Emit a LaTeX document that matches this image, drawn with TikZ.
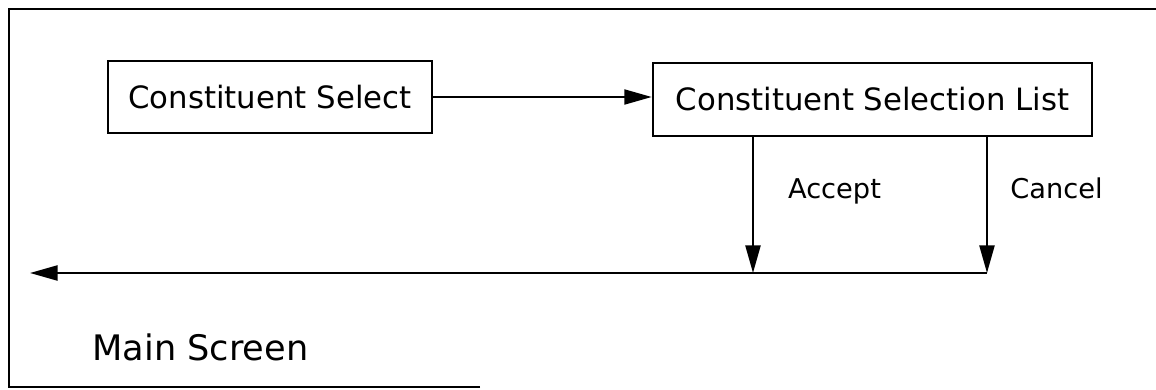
\documentclass[tikz,border=0pt]{standalone}
\usepackage{fontspec}
\setsansfont{DejaVu Sans}
\usetikzlibrary{arrows.meta,positioning,calc}
\tikzset{box/.style={draw=black,line width=1.4pt,align=center,inner sep=0pt,font=\sffamily\fontsize{17.5}{20}\selectfont},arrow/.style={-{Triangle[length=5.5mm,width=3mm]},line width=1.2pt},lab/.style={font=\sffamily\fontsize{15.5}{18}\selectfont,inner sep=0pt,anchor=base},frame/.style={line width=1.6pt}}

\begin{document}
\begin{tikzpicture}
\useasboundingbox (0,0) rectangle (23.12,-7.8);
% screen outline (right and lower right edge missing)
\draw[frame] (9.6,-7.74) -- (0.18,-7.74) -- (0.18,-0.18) -- (23.12,-0.18);
\node[box,minimum width=6.48cm,minimum height=1.44cm] (sel) at (5.4,-1.94) {Constituent Select};
\node[box,minimum width=8.78cm,minimum height=1.46cm] (list) at (17.45,-1.99) {Constituent Selection List};
\coordinate (acc) at (15.06,-5.46);
\coordinate (can) at (19.74,-5.46);
\coordinate (exit) at (0.6,-5.46);
\node[lab] (accept) at (16.69,-3.96) {Accept};
\node[lab] (cancel) at (21.13,-3.96) {Cancel};
\node[font=\sffamily\fontsize{20}{24}\selectfont,inner sep=0pt] (main) at (4.01,-6.94) {Main Screen};
\draw[arrow](sel.east)--(sel.east -| list.west);
\draw[arrow](list.south -| acc)--(acc);
\draw[arrow](list.south -| can)--(can);
\draw[arrow](can)--(exit);
\end{tikzpicture}
\end{document}
